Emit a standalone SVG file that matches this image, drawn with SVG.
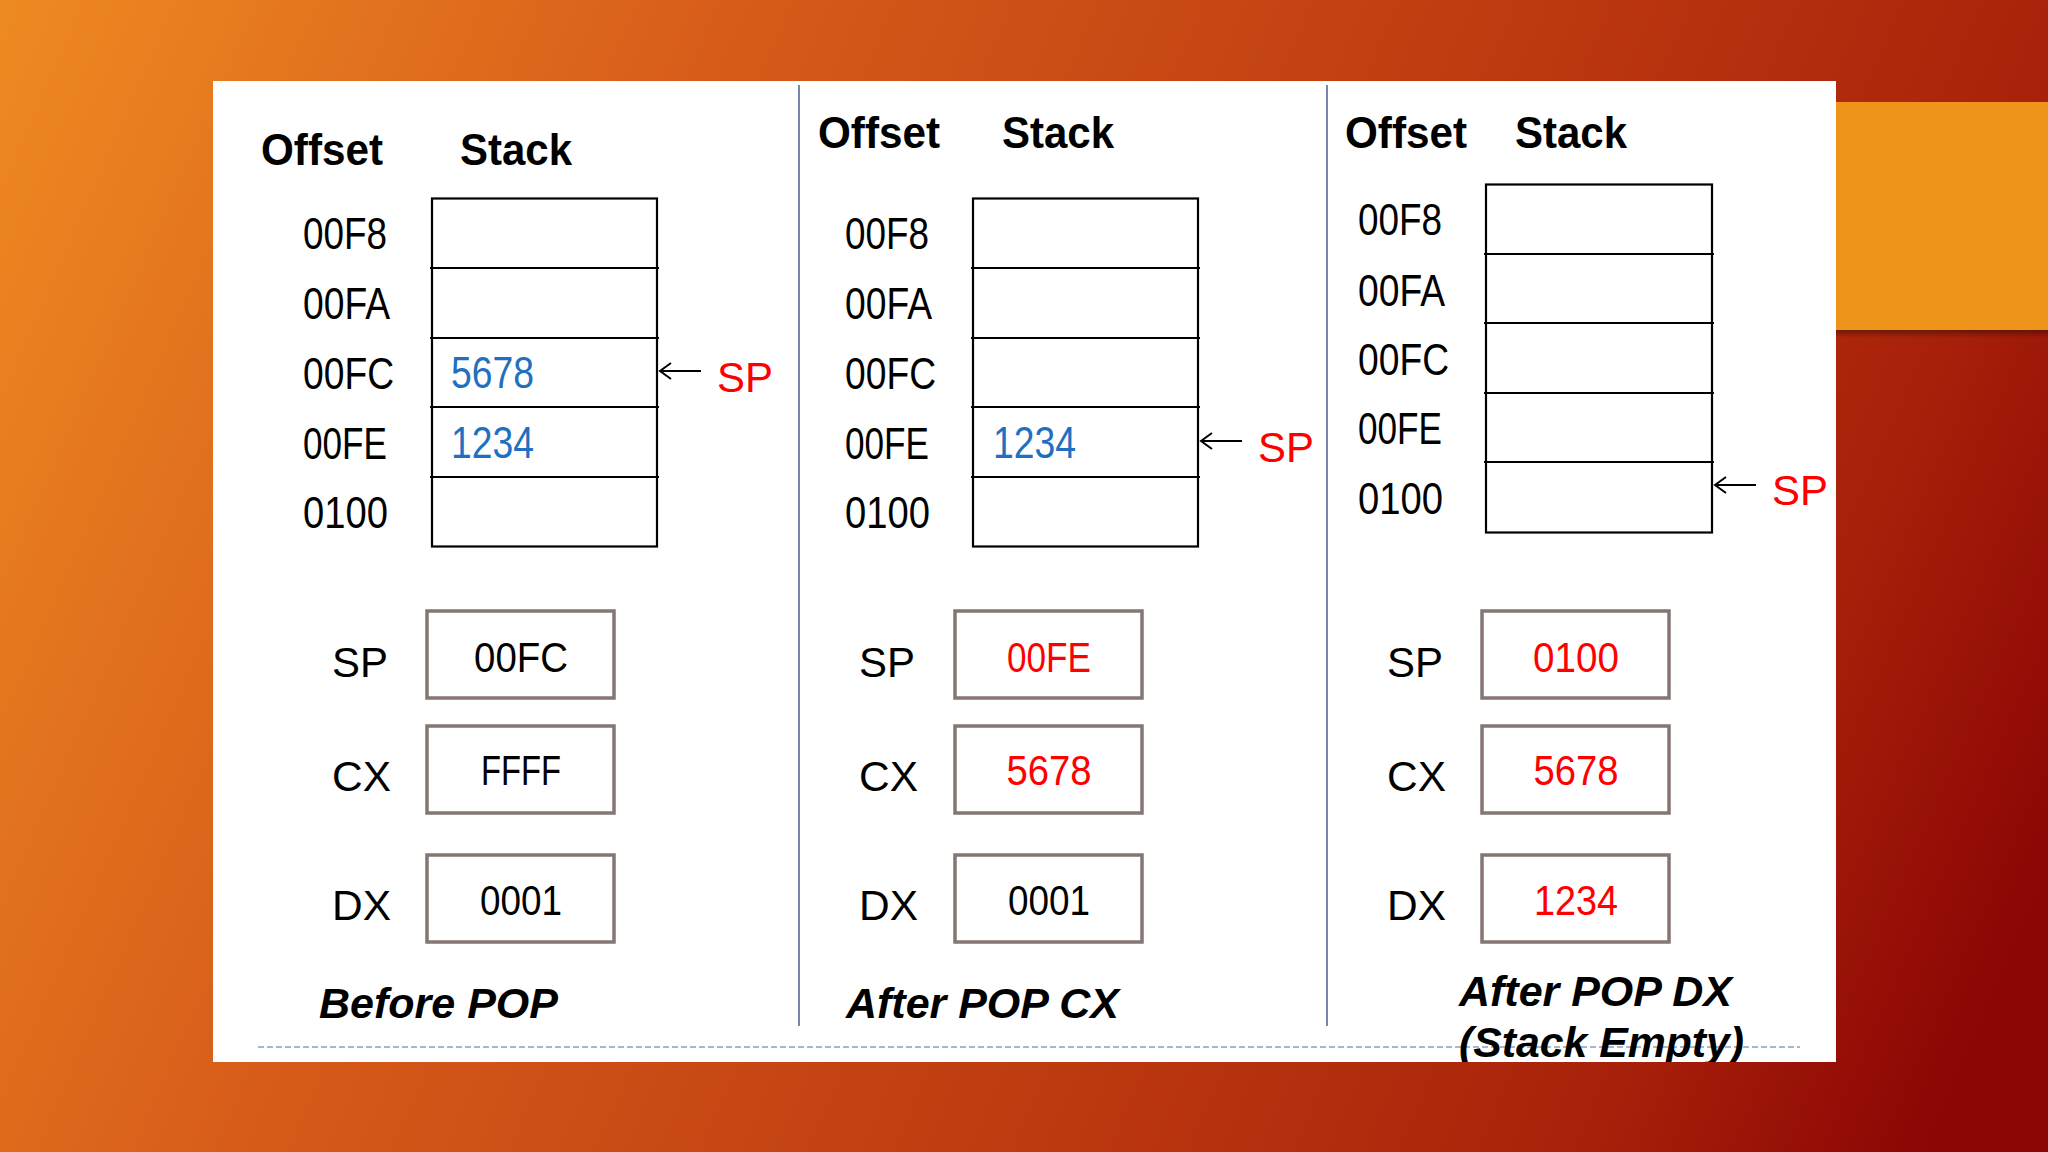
<svg xmlns="http://www.w3.org/2000/svg" width="2048" height="1152" viewBox="0 0 2048 1152">
<defs>
<linearGradient id="bg" gradientUnits="userSpaceOnUse" x1="0" y1="0" x2="2048" y2="900">
<stop offset="0" stop-color="#EE8A22"/>
<stop offset="0.3" stop-color="#D75C1A"/>
<stop offset="0.62" stop-color="#BE3A10"/>
<stop offset="0.85" stop-color="#A8220A"/>
<stop offset="1" stop-color="#8C0404"/>
</linearGradient>
<linearGradient id="sh" x1="0" y1="0" x2="0" y2="1">
<stop offset="0" stop-color="#000" stop-opacity="0.35"/>
<stop offset="1" stop-color="#000" stop-opacity="0"/>
</linearGradient>
<clipPath id="panelClip"><rect x="213" y="81" width="1623" height="981"/></clipPath>
<style>
.hdr{font-family:"Liberation Sans",Arial,sans-serif;font-weight:bold;font-size:44px;fill:#000}
.off{font-family:"Liberation Sans",Arial,sans-serif;font-size:44px;fill:#000}
.cell{stroke:#000;stroke-width:2.2;fill:none}
.reg{fill:#fff;stroke:#857673;stroke-width:3.5}
.rl{font-family:"Liberation Sans",Arial,sans-serif;font-size:43px;fill:#000}
.val{font-family:"Liberation Sans",Arial,sans-serif;font-size:42px;fill:#000;text-anchor:middle}
.red{fill:#FF0000}
.blue{fill:#1F70C1}
.cap{font-family:"Liberation Sans",Arial,sans-serif;font-weight:bold;font-style:italic;font-size:42px;fill:#000}
.arr{stroke:#000;stroke-width:2;fill:none}
.div{stroke:#7888AC;stroke-width:2}
</style>
</defs>
<rect x="0" y="0" width="2048" height="1152" fill="url(#bg)"/>
<rect x="1836" y="330" width="212" height="8" fill="url(#sh)"/>
<rect x="1836" y="102" width="212" height="228" fill="#EF941B"/>
<rect x="213" y="81" width="1623" height="981" fill="#FFFFFF"/>

<g id="dividers">
<line class="div" x1="799" y1="85" x2="799" y2="1026"/>
<line class="div" x1="1327" y1="85" x2="1327" y2="1026"/>
<line x1="258" y1="1047" x2="1800" y2="1047" stroke="#A8B8CC" stroke-width="2" stroke-dasharray="6 3"/>
</g>

<!-- Panel 1 -->
<g id="panel1">
<text class="hdr" x="261" y="165" textLength="122" lengthAdjust="spacingAndGlyphs">Offset</text>
<text class="hdr" x="460" y="165" textLength="112" lengthAdjust="spacingAndGlyphs">Stack</text>
<text class="off" x="303" y="249" textLength="84" lengthAdjust="spacingAndGlyphs">00F8</text>
<text class="off" x="303" y="319" textLength="87" lengthAdjust="spacingAndGlyphs">00FA</text>
<text class="off" x="303" y="389" textLength="91" lengthAdjust="spacingAndGlyphs">00FC</text>
<text class="off" x="303" y="459" textLength="84" lengthAdjust="spacingAndGlyphs">00FE</text>
<text class="off" x="303" y="528" textLength="85" lengthAdjust="spacingAndGlyphs">0100</text>
<g id="stack1">
<rect class="cell" x="432" y="198.5" width="225" height="348"/>
<path class="cell" d="M430 268H659M430 338H659M430 407H659M430 477H659"/>
<text class="off blue" x="451" y="388" textLength="83" lengthAdjust="spacingAndGlyphs">5678</text>
<text class="off blue" x="451" y="458" textLength="83" lengthAdjust="spacingAndGlyphs">1234</text>
</g>
<path class="arr" d="M701 371H660M671 363L660 371L671 379"/>
<text class="rl red" x="717" y="392" textLength="56" lengthAdjust="spacingAndGlyphs">SP</text>
<g id="regs1">
<text class="rl" x="332" y="677" textLength="56" lengthAdjust="spacingAndGlyphs">SP</text>
<rect class="reg" x="427" y="611" width="187" height="87"/>
<text class="val" x="521" y="672" textLength="94" lengthAdjust="spacingAndGlyphs">00FC</text>
<text class="rl" x="332" y="791" textLength="59" lengthAdjust="spacingAndGlyphs">CX</text>
<rect class="reg" x="427" y="726" width="187" height="87"/>
<text class="val" x="521" y="785" textLength="80" lengthAdjust="spacingAndGlyphs">FFFF</text>
<text class="rl" x="332" y="920" textLength="59" lengthAdjust="spacingAndGlyphs">DX</text>
<rect class="reg" x="427" y="855" width="187" height="87"/>
<text class="val" x="521" y="915" textLength="82" lengthAdjust="spacingAndGlyphs">0001</text>
</g>
<text class="cap" x="319" y="1018" textLength="239" lengthAdjust="spacingAndGlyphs">Before POP</text>
</g>

<!-- Panel 2 -->
<g id="panel2">
<text class="hdr" x="818" y="148" textLength="122" lengthAdjust="spacingAndGlyphs">Offset</text>
<text class="hdr" x="1002" y="148" textLength="112" lengthAdjust="spacingAndGlyphs">Stack</text>
<text class="off" x="845" y="249" textLength="84" lengthAdjust="spacingAndGlyphs">00F8</text>
<text class="off" x="845" y="319" textLength="87" lengthAdjust="spacingAndGlyphs">00FA</text>
<text class="off" x="845" y="389" textLength="91" lengthAdjust="spacingAndGlyphs">00FC</text>
<text class="off" x="845" y="459" textLength="84" lengthAdjust="spacingAndGlyphs">00FE</text>
<text class="off" x="845" y="528" textLength="85" lengthAdjust="spacingAndGlyphs">0100</text>
<g id="stack2">
<rect class="cell" x="973" y="198.5" width="225" height="348"/>
<path class="cell" d="M971 268H1200M971 338H1200M971 407H1200M971 477H1200"/>
<text class="off blue" x="993" y="458" textLength="83" lengthAdjust="spacingAndGlyphs">1234</text>
</g>
<path class="arr" d="M1242 441H1201M1212 433L1201 441L1212 449"/>
<text class="rl red" x="1258" y="462" textLength="56" lengthAdjust="spacingAndGlyphs">SP</text>
<g id="regs2">
<text class="rl" x="859" y="677" textLength="56" lengthAdjust="spacingAndGlyphs">SP</text>
<rect class="reg" x="955" y="611" width="187" height="87"/>
<text class="val red" x="1049" y="672" textLength="84" lengthAdjust="spacingAndGlyphs">00FE</text>
<text class="rl" x="859" y="791" textLength="59" lengthAdjust="spacingAndGlyphs">CX</text>
<rect class="reg" x="955" y="726" width="187" height="87"/>
<text class="val red" x="1049" y="785" textLength="85" lengthAdjust="spacingAndGlyphs">5678</text>
<text class="rl" x="859" y="920" textLength="59" lengthAdjust="spacingAndGlyphs">DX</text>
<rect class="reg" x="955" y="855" width="187" height="87"/>
<text class="val" x="1049" y="915" textLength="82" lengthAdjust="spacingAndGlyphs">0001</text>
</g>
<text class="cap" x="846" y="1018" textLength="273" lengthAdjust="spacingAndGlyphs">After POP CX</text>
</g>

<!-- Panel 3 -->
<g id="panel3">
<text class="hdr" x="1345" y="148" textLength="122" lengthAdjust="spacingAndGlyphs">Offset</text>
<text class="hdr" x="1515" y="148" textLength="112" lengthAdjust="spacingAndGlyphs">Stack</text>
<text class="off" x="1358" y="235" textLength="84" lengthAdjust="spacingAndGlyphs">00F8</text>
<text class="off" x="1358" y="306" textLength="87" lengthAdjust="spacingAndGlyphs">00FA</text>
<text class="off" x="1358" y="375" textLength="91" lengthAdjust="spacingAndGlyphs">00FC</text>
<text class="off" x="1358" y="444" textLength="84" lengthAdjust="spacingAndGlyphs">00FE</text>
<text class="off" x="1358" y="514" textLength="85" lengthAdjust="spacingAndGlyphs">0100</text>
<g id="stack3">
<rect class="cell" x="1486" y="184.5" width="226" height="348"/>
<path class="cell" d="M1484 254H1714M1484 323H1714M1484 393H1714M1484 462H1714"/>
</g>
<path class="arr" d="M1756 485H1715M1726 477L1715 485L1726 493"/>
<text class="rl red" x="1772" y="505" textLength="56" lengthAdjust="spacingAndGlyphs">SP</text>
<g id="regs3">
<text class="rl" x="1387" y="677" textLength="56" lengthAdjust="spacingAndGlyphs">SP</text>
<rect class="reg" x="1482" y="611" width="187" height="87"/>
<text class="val red" x="1576" y="672" textLength="86" lengthAdjust="spacingAndGlyphs">0100</text>
<text class="rl" x="1387" y="791" textLength="59" lengthAdjust="spacingAndGlyphs">CX</text>
<rect class="reg" x="1482" y="726" width="187" height="87"/>
<text class="val red" x="1576" y="785" textLength="85" lengthAdjust="spacingAndGlyphs">5678</text>
<text class="rl" x="1387" y="920" textLength="59" lengthAdjust="spacingAndGlyphs">DX</text>
<rect class="reg" x="1482" y="855" width="187" height="87"/>
<text class="val red" x="1576" y="915" textLength="84" lengthAdjust="spacingAndGlyphs">1234</text>
</g>
<g clip-path="url(#panelClip)">
<text class="cap" x="1459" y="1006" textLength="273" lengthAdjust="spacingAndGlyphs">After POP DX</text>
<text class="cap" x="1459" y="1057" textLength="285" lengthAdjust="spacingAndGlyphs">(Stack Empty)</text>
</g>
</g>
</svg>
